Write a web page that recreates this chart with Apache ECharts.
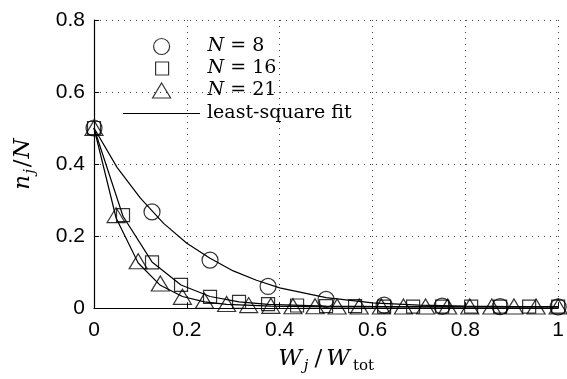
<!DOCTYPE html>
<html><head><meta charset="utf-8">
<script src="https://cdn.jsdelivr.net/npm/echarts@6/dist/echarts.min.js"></script>
<style>html,body{margin:0;padding:0;background:#fff}#c{width:567px;height:379px}</style>
</head><body><div id="c"></div>
<script>
const xTicks = [0, 0.2, 0.4, 0.6, 0.8, 1];
const yTicks = [0, 0.2, 0.4, 0.6, 0.8];

const n8X = [0, 0.125, 0.25, 0.375, 0.5, 0.625, 0.75, 0.875, 1];
const n8Y = [0.5, 0.267, 0.133, 0.06, 0.024, 0.008, 0.005, 0.004, 0.003];
const n16X = [0, 0.0625, 0.125, 0.1875, 0.25, 0.3125, 0.375, 0.4375, 0.5, 0.5625, 0.625, 0.6875, 0.75, 0.8125, 0.875, 0.9375, 1];
const n16Y = [0.5, 0.258, 0.127, 0.064, 0.031, 0.017, 0.011, 0.007, 0.005, 0.005, 0.004, 0.004, 0.004, 0.004, 0.004, 0.004, 0.004];
const n21X = [0, 0.0476, 0.0952, 0.1429, 0.1905, 0.2381, 0.2857, 0.3333, 0.381, 0.4286, 0.4762, 0.5238, 0.5714, 0.619, 0.6667, 0.7143, 0.7619, 0.8095, 0.8571, 0.9048, 0.9524, 1];
const n21Y = [0.5, 0.258, 0.13, 0.068, 0.031, 0.02, 0.011, 0.008, 0.006, 0.005, 0.005, 0.004, 0.004, 0.004, 0.004, 0.004, 0.004, 0.004, 0.004, 0.004, 0.004, 0.004];

const fit8X = [0, 0.05, 0.1, 0.15, 0.2, 0.25, 0.3, 0.35, 0.4, 0.5, 0.6, 0.7, 0.8, 0.9, 1];
const fit8Y = [0.5, 0.39, 0.305, 0.235, 0.18, 0.138, 0.103, 0.077, 0.056, 0.029, 0.014, 0.008, 0.005, 0.004, 0.004];
const fit16X = [0, 0.0625, 0.125, 0.1875, 0.25, 0.3125, 0.375, 0.5, 0.625, 0.75, 1];
const fit16Y = [0.5, 0.255, 0.128, 0.064, 0.032, 0.017, 0.01, 0.005, 0.004, 0.003, 0.003];
const fit21X = [0, 0.0476, 0.0952, 0.1429, 0.1905, 0.2381, 0.2857, 0.381, 0.5, 0.75, 1];
const fit21Y = [0.5, 0.25, 0.125, 0.063, 0.032, 0.017, 0.01, 0.005, 0.003, 0.003, 0.003];

const legendNames = ['N = 8', 'N = 16', 'N = 21', 'least-square fit'];

function pairs(xs, ys) { return xs.map((x, i) => [x, ys[i]]); }

const serif = 'DejaVu Serif';
const markerStyle = { color: 'rgba(0,0,0,0)', borderColor: '#000', borderWidth: 1.2 };
const fitLine = { color: '#000', width: 1.2 };

function mathRich() {
  return {
    i: { fontFamily: serif, fontStyle: 'italic', fontSize: 19, color: '#000', lineHeight: 20 },
    r: { fontFamily: serif, fontSize: 19, color: '#000', lineHeight: 20 }
  };
}
function nameFmt(name) {
  if (name.indexOf('N') === 0) return '{i|N}{r|' + name.slice(1) + '}';
  return '{r|' + name + '}';
}
function mkLegend(name, icon, w, h, left, top, pad, itemStyle) {
  return {
    data: [{ name: name, icon: icon }],
    orient: 'vertical', left: left, top: top,
    itemWidth: w, itemHeight: h, selectedMode: false,
    padding: 0,
    itemStyle: itemStyle,
    formatter: nameFmt,
    textStyle: { padding: [0, 0, 0, pad], rich: mathRich() }
  };
}
const hollow = { color: 'rgba(0,0,0,0)', borderColor: '#000', borderWidth: 1.2 };
const solid = { color: '#000', borderWidth: 0 };

const chart = echarts.init(document.getElementById('c'), null, { renderer: 'canvas' });
chart.setOption({
  backgroundColor: '#fff',
  animation: false,
  grid: { left: 94, right: 2, top: 20, bottom: 71 },
  xAxis: {
    type: 'value', min: xTicks[0], max: xTicks[xTicks.length - 1], interval: xTicks[1] - xTicks[0],
    axisLine: { lineStyle: { color: '#000', width: 1.2 } },
    axisTick: { inside: true, length: 5, lineStyle: { color: '#000' } },
    axisLabel: { color: '#000', fontFamily: 'Liberation Sans', fontSize: 21, margin: 12 },
    splitLine: { show: true, lineStyle: { color: '#444', width: 1, type: [1, 5] } },
    name: '{i|W}{s|j}{r|/}{i|W}{t|tot}',
    nameLocation: 'middle', nameGap: 36,
    nameTextStyle: {
      rich: {
        i: { fontFamily: serif, fontStyle: 'italic', fontSize: 23, color: '#000', lineHeight: 30, verticalAlign: 'middle' },
        r: { fontFamily: serif, fontSize: 23, color: '#000', lineHeight: 30, padding: [0, 4, 0, 2] },
        s: { fontFamily: serif, fontStyle: 'italic', fontSize: 15, color: '#000', lineHeight: 15, verticalAlign: 'bottom', padding: [0, 4, 0, 2] },
        t: { fontFamily: serif, fontSize: 15, color: '#000', lineHeight: 15, verticalAlign: 'bottom', padding: [0, 0, 0, 3] }
      }
    }
  },
  yAxis: {
    type: 'value', min: yTicks[0], max: yTicks[yTicks.length - 1], interval: yTicks[1] - yTicks[0],
    axisLine: { show: true, lineStyle: { color: '#000', width: 1.2 } },
    axisTick: { show: true, inside: true, length: 5, lineStyle: { color: '#000' } },
    axisLabel: { color: '#000', fontFamily: 'Liberation Sans', fontSize: 21, margin: 9 },
    splitLine: { show: true, lineStyle: { color: '#444', width: 1, type: [1, 5] } },
    name: '{i|n}{s|j}{r|/}{i|N}',
    nameLocation: 'middle', nameGap: 56,
    nameTextStyle: {
      rich: {
        i: { fontFamily: serif, fontStyle: 'italic', fontSize: 23, color: '#000', lineHeight: 30 },
        r: { fontFamily: serif, fontSize: 23, color: '#000', lineHeight: 30, padding: [0, 1, 0, 0] },
        s: { fontFamily: serif, fontStyle: 'italic', fontSize: 15, color: '#000', lineHeight: 15, verticalAlign: 'bottom', padding: [0, 2, 0, 1] }
      }
    }
  },
  legend: [
    mkLegend(legendNames[0], 'circle', 16, 16, 153, 37, 33, hollow),
    mkLegend(legendNames[1], 'rect', 13, 13, 155, 59, 34, hollow),
    mkLegend(legendNames[2], 'triangle', 18, 15, 152, 81, 32, hollow),
    mkLegend(legendNames[3], 'rect', 77, 1.2, 123, 104, 2, solid)
  ],
  series: [
    { type: 'line', name: legendNames[3], data: pairs(fit8X, fit8Y), symbol: 'none', lineStyle: fitLine, z: 2 },
    { type: 'line', name: legendNames[3], data: pairs(fit16X, fit16Y), symbol: 'none', lineStyle: fitLine, z: 2 },
    { type: 'line', name: legendNames[3], data: pairs(fit21X, fit21Y), symbol: 'none', lineStyle: fitLine, z: 2 },
    { type: 'scatter', name: legendNames[0], data: pairs(n8X, n8Y), symbol: 'circle', symbolSize: 16, itemStyle: markerStyle, clip: false, z: 3 },
    { type: 'scatter', name: legendNames[1], data: pairs(n16X, n16Y), symbol: 'rect', symbolSize: 13, itemStyle: markerStyle, clip: false, z: 3 },
    { type: 'scatter', name: legendNames[2], data: pairs(n21X, n21Y), symbol: 'triangle', symbolSize: [18, 15], itemStyle: markerStyle, clip: false, z: 3 }
  ]
});
</script>
</body></html>
